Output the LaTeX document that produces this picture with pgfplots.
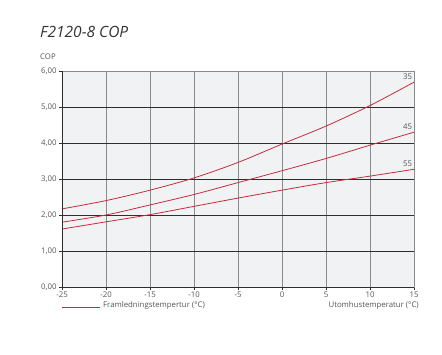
\documentclass[border=0pt]{standalone}
\usepackage{pgfplots}
\pgfplotsset{compat=1.18}
\usepackage{fontspec}
\setmainfont{Open Sans}
\definecolor{txt}{HTML}{555555}
\definecolor{bg}{HTML}{F1F2F4}
\definecolor{hgrid}{HTML}{2E2E2E}
\definecolor{vgrid}{HTML}{8A8A8A}
\definecolor{curve}{HTML}{C22D3E}
\begin{document}
\begin{tikzpicture}[x=1pt,y=1pt]
\begin{axis}[
  at={(62pt,67pt)}, anchor=south west,
  scale only axis, width=352pt, height=216pt,
  xmin=-25, xmax=15, ymin=0, ymax=6,
  xtick={-25,-20,...,15}, ytick={0,1,...,6},
  axis background/.style={fill=bg},
  axis line style={draw=vgrid, line width=0.9pt},
  extra description/.code={
    \draw[hgrid, line width=0.9pt] (rel axis cs:0,1) -- (rel axis cs:0,0) -- (rel axis cs:1,0);
  },
  xmajorgrids, ymajorgrids,
  x grid style={vgrid, line width=0.8pt},
  y grid style={hgrid, line width=0.8pt},
  tick style={hgrid, line width=0.6pt},
  tick align=outside, major tick length=3pt,
  xtick pos=bottom, ytick pos=left,
  ticklabel style={font=\fontsize{7.8}{8}\selectfont, text=txt},
  /pgf/number format/assume math mode=true,
  xticklabel style={yshift=1.5pt},
  yticklabel style={xshift=1pt, /pgf/number format/use comma, /pgf/number format/fixed, /pgf/number format/fixed zerofill, /pgf/number format/precision=2},
  clip=false,
]
\addplot[curve, line width=0.8pt, smooth, tension=0.5] coordinates {(-25,2.17) (-20,2.40) (-15,2.69) (-10,3.03) (-5,3.46) (0,3.97) (5,4.47) (10,5.04) (15,5.69)}
  node[pos=1, anchor=south east, font=\fontsize{7.8}{8}\selectfont, text=txt, inner sep=1.5pt, yshift=1pt] {35};
\addplot[curve, line width=0.8pt, smooth, tension=0.5] coordinates {(-25,1.80) (-20,2.00) (-15,2.28) (-10,2.57) (-5,2.90) (0,3.23) (5,3.57) (10,3.94) (15,4.30)}
  node[pos=1, anchor=south east, font=\fontsize{7.8}{8}\selectfont, text=txt, inner sep=1.5pt, yshift=1pt] {45};
\addplot[curve, line width=0.8pt, smooth, tension=0.5] coordinates {(-25,1.61) (-20,1.81) (-15,2.01) (-10,2.24) (-5,2.47) (0,2.69) (5,2.90) (10,3.08) (15,3.27)}
  node[pos=1, anchor=south east, font=\fontsize{7.8}{8}\selectfont, text=txt, inner sep=1.5pt, yshift=1pt] {55};
\end{axis}
\node[anchor=base west, inner sep=0, font=\fontsize{15.5}{16}\selectfont\itshape, text=black!80] at (40,316) {F2120-8 COP};
\node[anchor=base west, inner sep=0, font=\fontsize{7.8}{8}\selectfont, text=txt] at (40,294) {COP};
\draw[curve, line width=0.8pt] (62,46.5) -- (100,46.5);
\node[anchor=base west, inner sep=0, font=\fontsize{7.8}{8}\selectfont, text=txt] at (103,47) {Framledningstempertur (°C)};
\node[anchor=base east, inner sep=0, font=\fontsize{7.8}{8}\selectfont, text=txt] at (419,47) {Utomhustemperatur (°C)};
\pgfresetboundingbox
\useasboundingbox (0,0) rectangle (442,354);
\end{tikzpicture}
\end{document}
